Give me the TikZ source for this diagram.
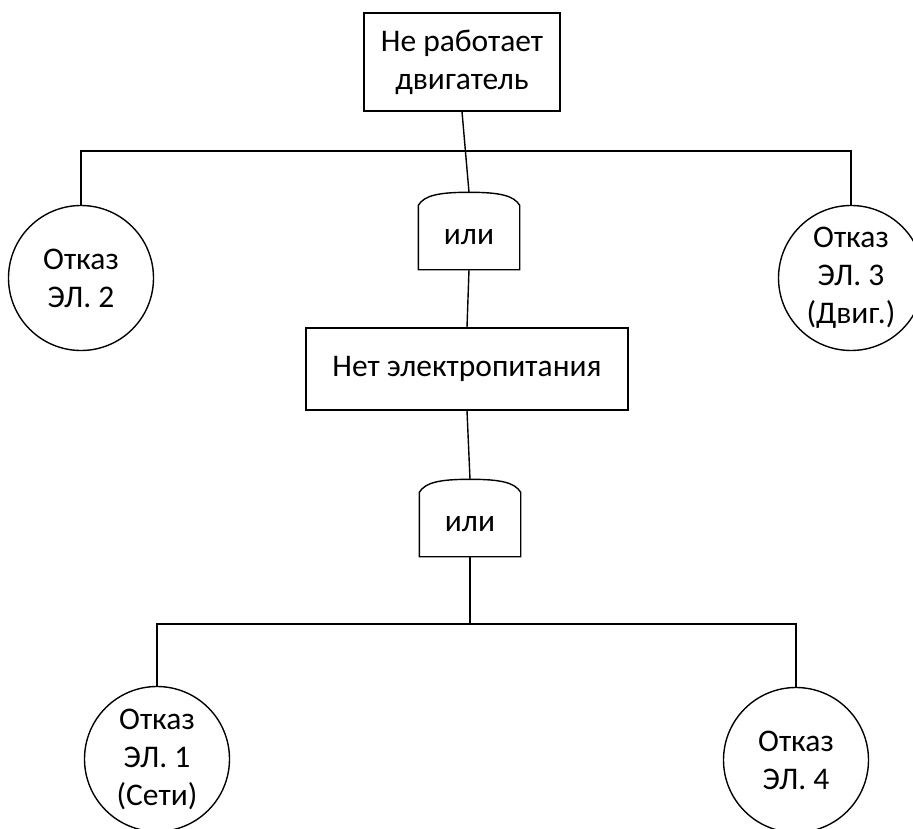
\documentclass[tikz,border=0pt]{standalone}
\usepackage{fontspec}
\setmainfont{Carlito}
\tikzset{
 box/.style={draw, align=center, inner sep=0pt},
 event/.style={draw, circle, minimum size=145pt, align=center, inner sep=0pt},
 gate/.style={minimum width=100pt, minimum height=76pt, inner sep=0pt, text height=26pt, text depth=0pt}
}
\newcommand{\orgate}[1]{\draw (#1.south west) -- ([yshift=-13pt]#1.north west) .. controls +(6,-10) and +(-30,0) .. (#1.north) .. controls +(30,0) and +(-6,-10) .. ([yshift=-13pt]#1.north east) -- (#1.south east) -- cycle;}

\begin{document}
\begin{tikzpicture}[x=1pt, y=-1pt, line width=1.4pt, font=\fontsize{31.5}{38}\selectfont]
\clip (0,0) rectangle (913,829);
\node[box, minimum width=196pt, minimum height=98pt] (top) at (462,62) {Не работает\\двигатель};
\node[gate] (or1) at (469,231) {или};
\orgate{or1}
\node[box, minimum width=322pt, minimum height=82pt] (net) at (467,369) {Нет электропитания};
\node[gate] (or2) at (470,518) {или};
\orgate{or2}
\foreach \n/\x/\y/\t in {e2/81/278/{Отказ\\ЭЛ. 2}, e3/851/278/{Отказ\\ЭЛ. 3\\(Двиг.)}, e1/157/759/{Отказ\\ЭЛ. 1\\(Сети)}, e4/796/760/{Отказ\\ЭЛ. 4}}
 \node[event] (\n) at (\x,\y) {\t};
\coordinate (bus1) at (462,151);
\coordinate (bus2) at (470,624);
\draw (top.south) -- (or1.north);
\draw (e2.north) -- (e2.north |- bus1) -- (e3.north |- bus1) -- (e3.north);
\draw (or1.south) -- (net.north);
\draw (net.south) -- (or2.north);
\draw (or2.south) -- (bus2);
\draw (e1.north) -- (e1.north |- bus2) -- (e4.north |- bus2) -- (e4.north);
\end{tikzpicture}
\end{document}
